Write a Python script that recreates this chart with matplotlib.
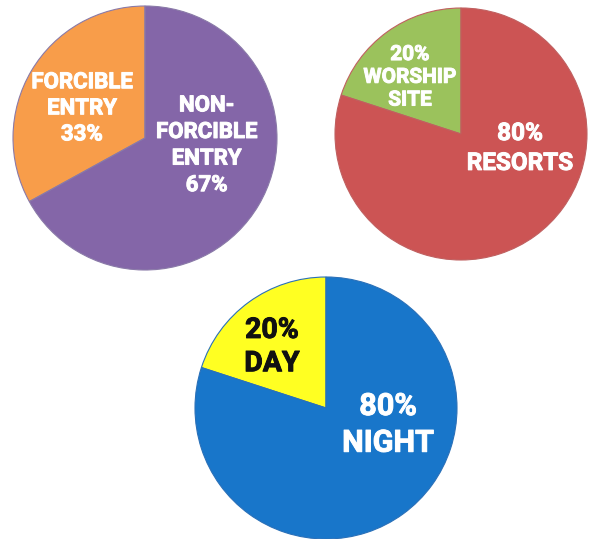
import matplotlib
matplotlib.use("Agg")
import matplotlib.pyplot as plt
import matplotlib.patheffects as pe

# ---- data ----
entry_labels = ["FORCIBLE\nENTRY", "NON-\nFORCIBLE\nENTRY"]
entry_values = [33, 67]

site_labels = ["WORSHIP\nSITE", "RESORTS"]
site_values = [20, 80]

time_labels = ["DAY", "NIGHT"]
time_values = [20, 80]

# ---- layout / style ----
W, H = 590, 539
fig = plt.figure(figsize=(W / 100, H / 100), dpi=100)
fig.patch.set_facecolor("white")
FONT = "Roboto"


def make_ax(cx, cy, r):
    ax = fig.add_axes([(cx - r) / W, 1 - (cy + r) / H, 2 * r / W, 2 * r / H])
    ax.set_xlim(-1, 1)
    ax.set_ylim(-1, 1)
    ax.axis("off")
    return ax


def draw_pie(ax, values, colors, edge):
    wedges, _ = ax.pie(values, colors=colors, startangle=90, counterclock=True,
                       radius=1.0, wedgeprops=dict(edgecolor=edge, linewidth=0.8))
    for w in wedges:
        w.set_clip_on(False)
    ax.set_xlim(-1, 1)
    ax.set_ylim(-1, 1)
    ax.set_aspect("auto")
    return wedges


def label(ax, x, y, s, color, size, ls):
    t = ax.text(x, y, s, ha="center", va="center", color=color, fontsize=size,
                fontweight="bold", family=FONT, linespacing=ls)
    t.set_path_effects([pe.withStroke(linewidth=0.7, foreground=color)])
    return t


# Pie 1: entry type
ax1 = make_ax(145, 138, 132)
draw_pie(ax1, entry_values, ["#F89D4A", "#8466A8"], "#8a7aa8")
label(ax1, -0.477, 0.225, f"{entry_labels[0]}\n{entry_values[0]}%", "white", 16, 1.24)
label(ax1, 0.467, -0.055, f"{entry_labels[1]}\n{entry_values[1]}%", "white", 16, 1.27)

# Pie 2: site
ax2 = make_ax(461, 134, 126)
draw_pie(ax2, site_values, ["#9BC25C", "#CC5454"], "#c06060")
label(ax2, -0.405, 0.45, f"{site_values[0]}%\n{site_labels[0]}", "white", 15, 1.25)
label(ax2, 0.468, -0.115, f"{site_values[1]}%\n{site_labels[1]}", "white", 17.5, 1.38)

# Pie 3: time of day
ax3 = make_ax(326, 408, 131)
draw_pie(ax3, time_values, ["#FFFF22", "#1876CA"], "#2a70b8")
label(ax3, -0.412, 0.465, f"{time_values[0]}%\n{time_labels[0]}", "#111111", 20.5, 1.3)
label(ax3, 0.473, -0.125, f"{time_values[1]}%\n{time_labels[1]}", "white", 22, 1.28)

fig.savefig("out.png", dpi=100, facecolor="white")
